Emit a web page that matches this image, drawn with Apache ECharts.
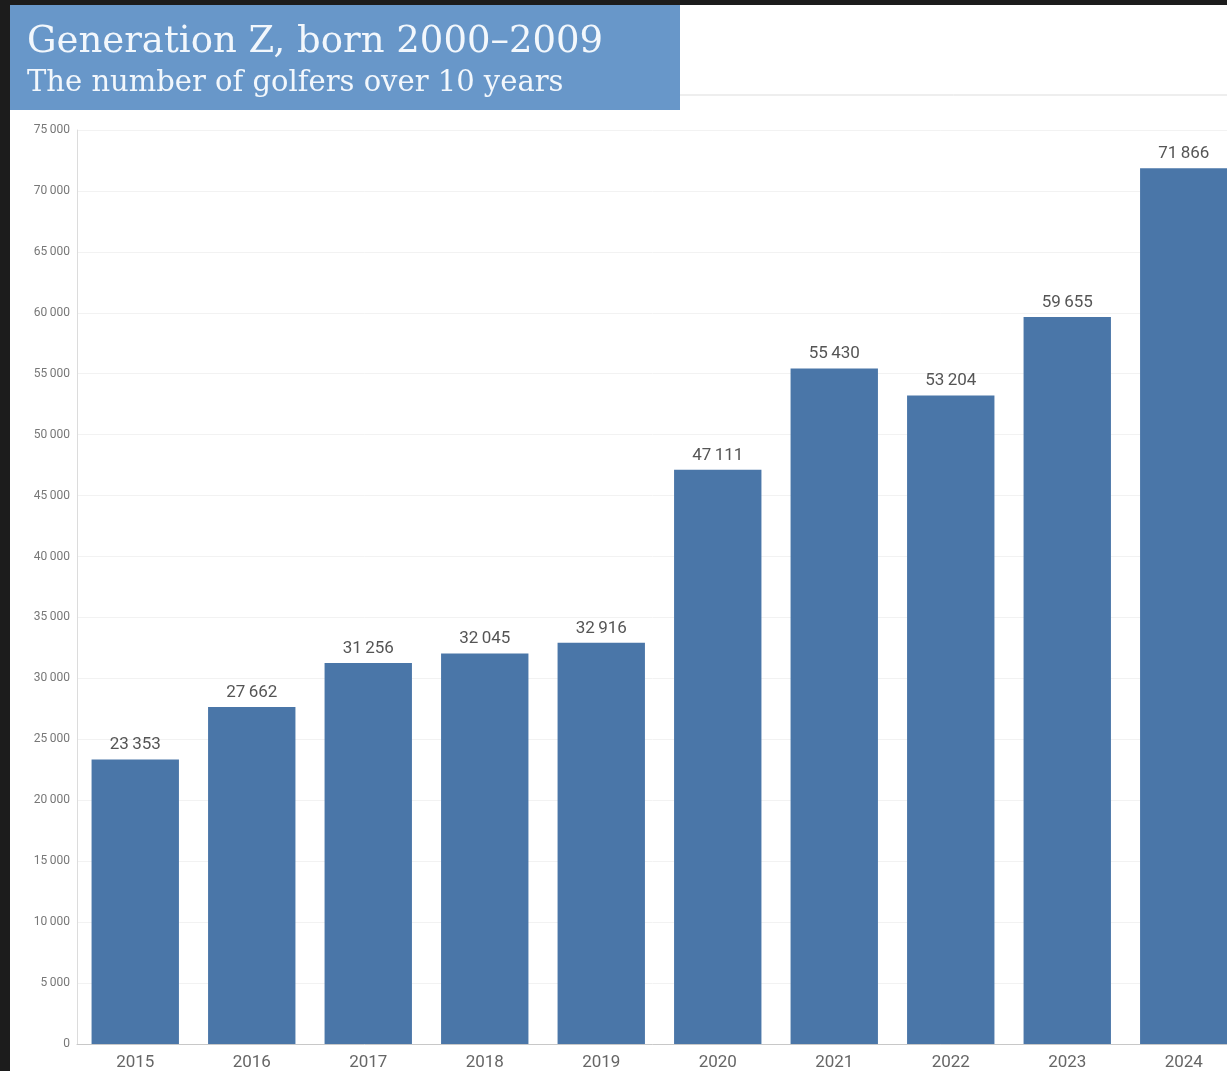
<!DOCTYPE html>
<html>
<head>
<meta charset="utf-8">
<script src="https://cdn.jsdelivr.net/npm/echarts@6/dist/echarts.min.js"></script>
<style>
html,body{margin:0;padding:0;background:#fff;}
#chart{width:1227px;height:1071px;}
</style>
</head>
<body>
<div id="chart"></div>
<script>
const titleText = 'Generation Z, born 2000\u20132009';
const subtitleText = 'The number of golfers over 10 years';
const years = ['2015','2016','2017','2018','2019','2020','2021','2022','2023','2024'];
const golfers = [23353, 27662, 31256, 32045, 32916, 47111, 55430, 53204, 59655, 71866];
const yMin = 0, yMax = 75000, yStep = 5000;

function fmt(v){ return String(v).replace(/\B(?=(\d{3})+(?!\d))/g, '\u2009'); }

const chart = echarts.init(document.getElementById('chart'));
chart.setOption({
  backgroundColor: '#ffffff',
  animation: false,
  grid: { left: 77, right: -15, top: 130, bottom: 27, containLabel: false, outerBoundsMode: 'none' },
  xAxis: {
    type: 'category',
    data: years,
    axisLine: { show: true, lineStyle: { color: '#c8c8c8', width: 1 } },
    axisTick: { show: false },
    axisLabel: { color: '#666', fontSize: 17, fontFamily: 'Roboto, sans-serif', margin: 10 }
  },
  yAxis: {
    type: 'value',
    min: yMin, max: yMax, interval: yStep,
    axisLine: { show: true, lineStyle: { color: '#dcdcdc', width: 1 } },
    axisTick: { show: false },
    splitLine: { show: true, lineStyle: { color: '#f2f2f2', width: 1 } },
    axisLabel: { color: '#777', fontSize: 12, fontFamily: 'Roboto, sans-serif', margin: 7,
      formatter: v => fmt(v) }
  },
  series: [{
    type: 'bar',
    data: golfers,
    barCategoryGap: '25%',
    itemStyle: { color: '#4a76a8' },
    label: { show: true, position: 'top', distance: 6, color: '#555', fontSize: 17,
      fontFamily: 'Roboto, sans-serif', formatter: p => fmt(p.value) }
  }],
  graphic: [
    { type: 'rect', left: 0, top: 0, shape: { width: 1227, height: 5 }, style: { fill: '#1c1c1c' }, z: 100 },
    { type: 'rect', left: 0, top: 0, shape: { width: 10, height: 1071 }, style: { fill: '#1c1c1c' }, z: 100 },
    { type: 'line', shape: { x1: 680, y1: 95, x2: 1227, y2: 95 }, style: { stroke: '#dddddd', lineWidth: 1 }, z: 50 },
    { type: 'rect', shape: { x: 10, y: 5, width: 670, height: 105 }, style: { fill: '#6897c9' }, z: 60 },
    { type: 'text', x: 27, y: 24, style: { text: titleText, fill: '#f2f7fc', font: '37px "DejaVu Serif", serif' }, z: 70 },
    { type: 'text', x: 27, y: 69, style: { text: subtitleText, fill: '#f2f7fc', font: '29px "DejaVu Serif", serif' }, z: 70 }
  ]
});
</script>
</body>
</html>
